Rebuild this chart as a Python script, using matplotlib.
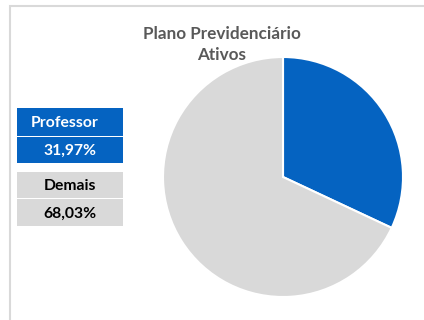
import matplotlib
matplotlib.use("Agg")
import matplotlib.pyplot as plt
from matplotlib.patches import Rectangle

categories = ["Professor", "Demais"]
shares = [31.97, 68.03]
colors = ["#0563C1", "#D9D9D9"]
label_colors = ["white", "black"]
title = "Plano Previdenciário\nAtivos"

W, H = 424, 320
fig = plt.figure(figsize=(W / 100, H / 100), dpi=100)
fig.patch.set_facecolor("white")

def fx(px):
    return px / W

def fy(py):
    return 1 - py / H

# outer chart frame (runs off the right and bottom edges)
fig.patches.append(Rectangle((fx(10), fy(330)), fx(430) - fx(10), fy(6) - fy(330),
                             transform=fig.transFigure, fill=False,
                             edgecolor="#D9D9D9", linewidth=1.5))

# pie
cx, cy, r = 283, 177, 120
ax = fig.add_axes([fx(cx - r), fy(cy + r), fx(2 * r), (2 * r) / H])
ax.pie(shares, colors=colors, startangle=90, counterclock=False,
       wedgeprops=dict(edgecolor="white", linewidth=1.5))
ax.set_xlim(-1.0, 1.0)
ax.set_ylim(-1.0, 1.0)
ax.set_aspect("equal")
ax.axis("off")

fig.text(fx(222), fy(44.5), title, ha="center", va="center", fontsize=12.3,
         fontweight="bold", color="#595959", family="Lato", linespacing=1.35)

# category boxes on the left
box_x0, box_x1 = 17, 123
rows = [(108, 136), (137, 163), (172, 198), (199, 226)]
for i, name in enumerate(categories):
    pct = f"{shares[i]:.2f}%".replace(".", ",")
    for j, txt in enumerate([name, pct]):
        y0, y1 = rows[2 * i + j]
        fig.patches.append(Rectangle((fx(box_x0), fy(y1)), fx(box_x1) - fx(box_x0),
                                     fy(y0) - fy(y1), transform=fig.transFigure,
                                     facecolor=colors[i], edgecolor="none"))
        xc = (box_x0 + box_x1) / 2
        if i == 0 and j == 0:
            xc -= 5
        fig.text(fx(xc), fy((y0 + y1) / 2 + 1), txt, ha="center",
                 va="center", fontsize=11.3, fontweight="bold",
                 color=label_colors[i], family="Lato")

fig.savefig("out.png", dpi=100)
